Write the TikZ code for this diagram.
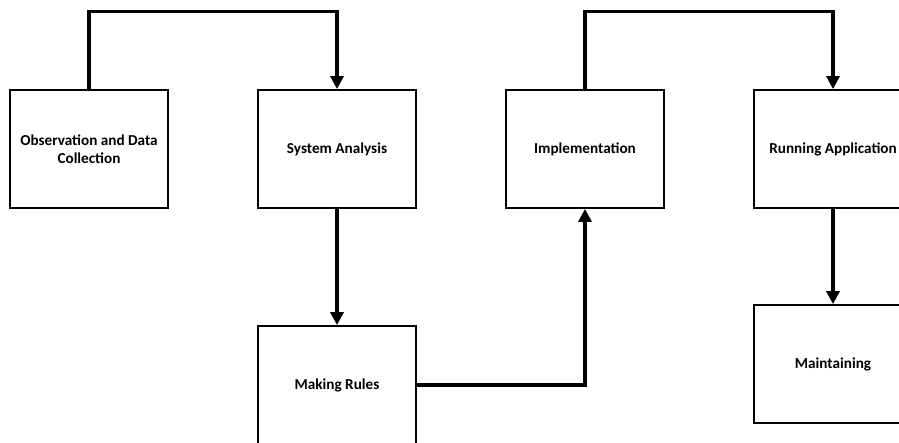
\documentclass[tikz,border=0pt]{standalone}
\usepackage{fontspec}
\setmainfont{Carlito}
\usetikzlibrary{arrows.meta,positioning}

\begin{document}
\begin{tikzpicture}[x=1pt, y=1pt, node distance=248pt,
    stage/.style={rectangle, draw, line width=1.8pt, minimum width=158pt, minimum height=118pt, inner sep=2pt, align=center, font=\fontsize{15.2}{17.5}\selectfont\bfseries},
    flow/.style={line width=3.2pt, -{Triangle[width=13pt,length=13pt]}}]

    \clip (0,0) rectangle (899,-442);
    \useasboundingbox (0,0) rectangle (899,-442);

    \node[stage] (observe) at (89,-149) {Observation and Data\\Collection};
    \node[stage, right of=observe] (analysis) {System Analysis};
    \node[stage, right of=analysis] (implement) {Implementation};
    \node[stage, right of=implement] (running) {Running Application};
    \node[stage, below of=analysis, node distance=236pt] (rules) {Making Rules};
    \node[stage, below of=running, node distance=215pt] (maintain) {Maintaining};

    \draw[flow] (observe.north) -- ++(0,78) -| (analysis.north);
    \draw[flow] (analysis) -- (rules);
    \draw[flow] (rules.east) -| (implement.south);
    \draw[flow] (implement.north) -- ++(0,78) -| (running.north);
    \draw[flow] (running) -- (maintain);

\end{tikzpicture}
\end{document}
